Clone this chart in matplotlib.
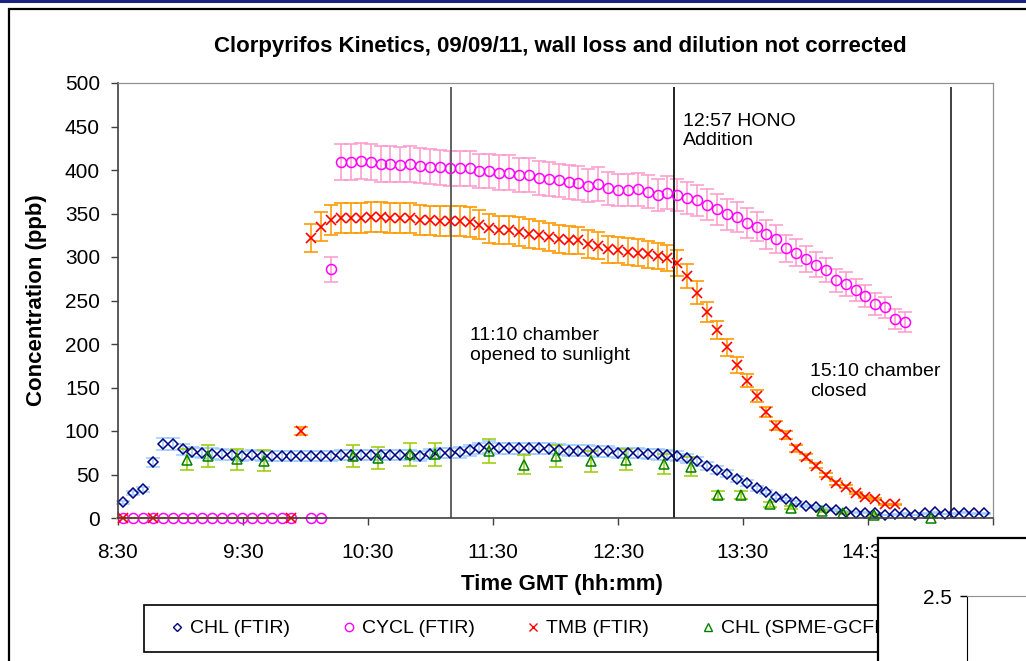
import numpy as np
import matplotlib
matplotlib.use("Agg")
import matplotlib.pyplot as plt
from matplotlib.lines import Line2D
from matplotlib.patches import Rectangle

plt.rcParams['font.family'] = ['Liberation Sans', 'DejaVu Sans']

nan = np.nan

# FTIR spectra, one every 4:45
ftir_times = [
    "08:32:30", "08:37:15", "08:42:00", "08:46:45", "08:51:30", "08:56:15", "09:01:00", "09:05:45",
    "09:10:30", "09:15:15", "09:20:00", "09:24:45", "09:29:30", "09:34:15", "09:39:00", "09:43:45",
    "09:48:30", "09:53:15", "09:58:00", "10:02:45", "10:07:30", "10:12:15", "10:17:00", "10:21:45",
    "10:26:30", "10:31:15", "10:36:00", "10:40:45", "10:45:30", "10:50:15", "10:55:00", "10:59:45",
    "11:04:30", "11:09:15", "11:14:00", "11:18:45", "11:23:30", "11:28:15", "11:33:00", "11:37:45",
    "11:42:30", "11:47:15", "11:52:00", "11:56:45", "12:01:30", "12:06:15", "12:11:00", "12:15:45",
    "12:20:30", "12:25:15", "12:30:00", "12:34:45", "12:39:30", "12:44:15", "12:49:00", "12:53:45",
    "12:58:30", "13:03:15", "13:08:00", "13:12:45", "13:17:30", "13:22:15", "13:27:00", "13:31:45",
    "13:36:30", "13:41:15", "13:46:00", "13:50:45", "13:55:30", "14:00:15", "14:05:00", "14:09:45",
    "14:14:30", "14:19:15", "14:24:00", "14:28:45", "14:33:30", "14:38:15", "14:43:00", "14:47:45",
    "14:52:30", "14:57:15", "15:02:00", "15:06:45", "15:11:30", "15:16:15", "15:21:00", "15:25:45",
]

chl_ftir = [
    18, 29, 33, 64, 85, 85, 79, 76, 75, 74, 73, 72.5, 71.5, 72, 71, 71,
    71, 71, 71, 71, 71, 71.5, 72, 72, 72, 72, 72, 72.5, 72.5, 72, 71.5, 73.5,
    74.5, 75, 75.5, 78, 80, 81.5, 80, 80, 80, 80, 80, 79.5, 78.5, 77.5, 77.5, 77.5,
    76.5, 76.5, 75, 74.5, 74.5, 73.5, 73, 72.5, 71, 68.5, 65, 60, 55.5, 51,
    45, 40, 34, 29.5, 24, 21.5, 18, 14, 12.3, 10.4, 9.2, 7.3, 6.1, 6,
    5.4, 3.5, 4.2, 5.4, 3.5, 5.4, 6.5, 4.6, 5.4, 6, 5.4, 5.5,
]

cycl_ftir = [
    0, 0, 0, 0, 0, 0, 0, 0, 0, 0, 0, 0, 0, 0, 0, 0,
    0, 0, nan, 0, 0, 286, 409, 409, 410, 409, 407, 407, 406, 407, 405, 404,
    403, 402, 402, 402, 399, 399, 397, 397, 394, 394, 391, 390, 388, 386, 385, 382,
    384, 379, 377, 377, 378, 375, 371, 374, 371, 368, 365, 360, 355, 349, 346, 339,
    335, 326, 321, 310, 305, 298, 291, 285, 273, 269, 262, 255, 246, 242, 229, 225,
    nan, nan, nan, nan, nan, nan, nan, nan,
]

tmb_ftir = [
    0, nan, nan, 0, nan, nan, nan, nan, nan, nan, nan, nan, nan, nan, nan, nan,
    nan, 0, 100, 322, 335, 343, 345, 345, 345, 346, 346, 345, 345, 345, 343, 342,
    341, 341, 341, 340, 337, 333, 331, 331, 329, 327, 325, 323, 321, 320, 319, 315,
    313, 309, 308, 306, 305, 303, 301, 299, 293, 278, 259, 237, 216, 196, 176, 158,
    140, 122, 106, 95.5, 80, 70, 60, 49.5, 40, 36, 28.5, 24, 21.5, 15.7, 15.7, nan,
    nan, nan, nan, nan, nan, nan, nan, nan,
]

# SPME-GC/FID samples
spme_times = [
    "09:03", "09:13", "09:27", "09:40", "10:23", "10:35", "10:50", "11:02",
    "11:28", "11:45", "12:00", "12:17", "12:34", "12:52", "13:05", "13:18",
    "13:29", "13:43", "13:53", "14:08", "14:18", "14:33", "15:00",
]
chl_spme = [
    67, 71, 67.5, 66, 71, 69, 73, 73,
    77, 61, 71, 65, 67, 62, 59, 26.5,
    26.5, 15.7, 12, 8, 5.4, 3.5, 0.5,
]

# error bars as percent of value
chl_ftir_err = 8
cycl_err = 5
tmb_err = 5
spme_err = 18

event_times = ["11:10", "12:57", "15:10"]
event_colors = ["#555555", "#111111", "#333333"]
event_notes = ["11:10 chamber\nopened to sunlight", "12:57 HONO\nAddition", "15:10 chamber\nclosed"]
note_pos = [(11.316, 219), (13.02, 466), (14.036, 178)]


def hours(stamp):
    parts = [int(p) for p in stamp.split(":")]
    parts += [0] * (3 - len(parts))
    return parts[0] + parts[1] / 60 + parts[2] / 3600


def series(ax, times, values, pct, **style):
    t = np.array([hours(s) for s in times])
    v = np.array(values, dtype=float)
    ok = np.isfinite(v)
    eb = ax.errorbar(t[ok], v[ok], yerr=v[ok] * pct / 100.0, ls="none",
                     elinewidth=1.1, capsize=5, capthick=1.1, **style)
    eb[0].set_clip_on(False)
    for art in list(eb[1]) + list(eb[2]):
        art.set_clip_on(False)
    return eb


fig = plt.figure(figsize=(10.26, 6.61), dpi=100)

# chart area border and banner line
fig.add_artist(Rectangle((9 / 1026, -0.5), 2.0, 0.5 + 1 - 9 / 661, transform=fig.transFigure,
                         fill=False, ec="black", lw=1.6))
fig.add_artist(Line2D([0, 1], [1 - 1 / 661, 1 - 1 / 661], transform=fig.transFigure,
                      color="#1a237e", lw=2.2))

ax = fig.add_axes([118 / 1026, 1 - 518 / 661, 875 / 1026, 435 / 661])

series(ax, ftir_times, chl_ftir, chl_ftir_err, marker="D", ms=4.8, mfc="none",
       mec="#000080", mew=1.1, ecolor="#99CCFF")
series(ax, ftir_times, cycl_ftir, cycl_err, marker="o", ms=7.2, mfc="none",
       mec="#FF00FF", mew=1.1, ecolor="#FF99CC")

# TMB readings below detection: their flat error caps run together along zero
tmb_zero = [hours(s) for s, v in zip(ftir_times, tmb_ftir) if v == 0]
ax.hlines(0, tmb_zero[0] - 0.05, tmb_zero[-1], colors="#FF9900", lw=1.6, zorder=2.1, clip_on=False)

series(ax, ftir_times, tmb_ftir, tmb_err, marker="x", ms=7.5, mec="#FF0000", mew=1.2,
       ecolor="#FF9900")
series(ax, spme_times, chl_spme, spme_err, marker="^", ms=7, mfc="none",
       mec="#008000", mew=1.1, ecolor="#99CC00")

ax.vlines([hours(s) for s in event_times], 0, 495, colors=event_colors, lw=1.3)
for note, (x, y) in zip(event_notes, note_pos):
    ax.text(x, y, note, fontsize=14, ha="left", va="top", color="black")

ax.set_xlim(8.5, 15.5)
ax.set_ylim(0, 500)
xt = np.arange(8.5, 15.51, 1.0)
ax.set_xticks(xt)
ax.set_xticklabels([f"{int(h)}:30" for h in xt])
ax.set_yticks(np.arange(0, 501, 50))
ax.tick_params(axis="both", direction="out", length=5, width=1, color="#404040", labelsize=15)
ax.tick_params(axis="x", pad=13)
ax.tick_params(axis="y", pad=8)
for side in ("left", "bottom"):
    ax.spines[side].set_color("#404040")
    ax.spines[side].set_linewidth(1.2)
for side in ("top", "right"):
    ax.spines[side].set_color("#909090")
    ax.spines[side].set_linewidth(0.9)

ax.set_ylabel("Concentration (ppb)", fontsize=16, fontweight="bold")
ax.yaxis.set_label_coords(-0.0926, 0.5)
ax.yaxis.label.set_va("center")
ax.set_xlabel("Time GMT (hh:mm)", fontsize=16, fontweight="bold")
ax.xaxis.set_label_coords(0.507, -0.152)
ax.xaxis.label.set_va("center")

fig.text(560 / 1026, 1 - 46.5 / 661, "Clorpyrifos Kinetics, 09/09/11, wall loss and dilution not corrected",
         fontsize=16, fontweight="bold", ha="center", va="center")

# legend: entries without their own frame, box drawn separately
handles = [
    Line2D([], [], ls="none", marker="D", ms=4, mfc="none", mec="#000080", mew=1),
    Line2D([], [], ls="none", marker="o", ms=6, mfc="none", mec="#FF00FF", mew=1),
    Line2D([], [], ls="none", marker="x", ms=6, mec="#FF0000", mew=1),
    Line2D([], [], ls="none", marker="^", ms=6, mfc="none", mec="#008000", mew=1),
]
labels = ["CHL (FTIR)", "CYCL (FTIR)", "TMB (FTIR)", "CHL (SPME-GCFID)"]
ax.legend(handles, labels, loc="center left", bbox_to_anchor=(171 / 1026, 1 - 628.5 / 661),
          bbox_transform=fig.transFigure, ncol=4, fontsize=14, frameon=False,
          borderaxespad=0, borderpad=0, handlelength=0.6, handletextpad=0.37,
          columnspacing=2.72)
ax.add_patch(Rectangle((144 / 1026, 1 - 652 / 661), 0.85, 47 / 661, transform=fig.transFigure,
                       fill=False, ec="black", lw=1.2, clip_on=False))

# second chart overlapping the lower right corner
box = fig.add_axes([878 / 1026, -0.5, 0.5, 0.5 + (661 - 538) / 661])
box.set_facecolor("white")
box.set_xticks([])
box.set_yticks([])
for s in box.spines.values():
    s.set_color("black")
    s.set_linewidth(1.6)

inset = fig.add_axes([967 / 1026, -0.5, 0.5, 0.5 + (661 - 596) / 661])
inset.set_ylim(0, 2.5)
inset.set_xlim(0, 1)
inset.set_yticks([2.5])
inset.set_yticklabels(["2.5"])
inset.set_xticks([])
inset.tick_params(axis="y", direction="out", length=5, width=1, labelsize=15, pad=6)
inset.spines["top"].set_color("#909090")
inset.spines["left"].set_color("black")
inset.spines["right"].set_visible(False)
inset.spines["bottom"].set_visible(False)

fig.savefig("out.png", dpi=100)
